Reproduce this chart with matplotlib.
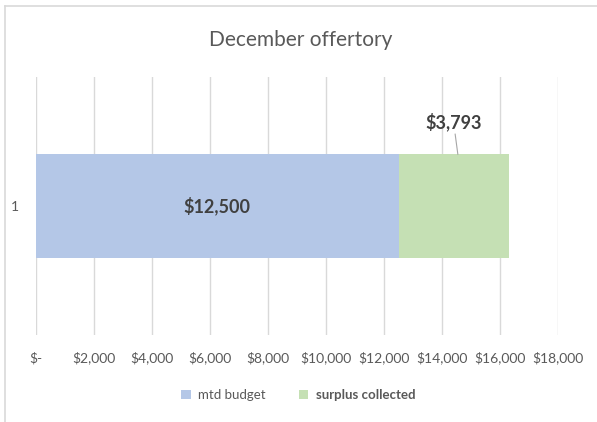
import matplotlib.pyplot as plt
from matplotlib.lines import Line2D

# chart data
categories = ['1']
mtd_budget = [12500]
surplus = [3793]
x_ticks = [0, 2000, 4000, 6000, 8000, 10000, 12000, 14000, 16000, 18000]
x_labels = ['$-', '$2,000', '$4,000', '$6,000', '$8,000', '$10,000',
            '$12,000', '$14,000', '$16,000', '$18,000']

plt.rcParams['font.family'] = ['Lato', 'DejaVu Sans']
grey = '#595959'

fig = plt.figure(figsize=(5.97, 4.22), dpi=100)
ax = fig.add_axes([0.0603, 0.206, 0.8744, 0.6115])

# chart frame: only top and left edges show in the crop
fig.lines.append(Line2D([0.008, 1.0], [0.985, 0.985], transform=fig.transFigure,
                        color='#d9d9d9', linewidth=1.2))
fig.lines.append(Line2D([0.008, 0.008], [0.0, 0.985], transform=fig.transFigure,
                        color='#d9d9d9', linewidth=1.2))

ypos = range(len(categories))
ax.barh(ypos, mtd_budget, height=0.4, color='#b4c7e7', label='mtd budget', zorder=2)
ax.barh(ypos, surplus, left=mtd_budget, height=0.4, color='#c5e0b4',
        label='surplus collected', zorder=2)

for i in ypos:
    ax.text(mtd_budget[i] / 2, i, f'${mtd_budget[i]:,}', ha='center', va='center',
            fontsize=13, fontweight='bold', color='#404040', zorder=3)
    lx = mtd_budget[i] + surplus[i] / 2
    ax.annotate(f'${surplus[i]:,}', xy=(lx + 150, i + 0.2), xytext=(lx, i + 0.29),
                ha='center', va='bottom', fontsize=13, fontweight='bold', color='#404040',
                arrowprops=dict(arrowstyle='-', color='#a6a6a6', lw=0.8,
                                shrinkA=0, shrinkB=0))

ax.set_xlim(0, 18000)
ax.set_ylim(-0.5, 0.5)
ax.set_xticks(x_ticks)
ax.set_xticklabels(x_labels)
ax.set_yticks(list(ypos))
ax.set_yticklabels(categories)
ax.tick_params(axis='both', length=0, colors=grey, labelsize=10)
ax.tick_params(axis='x', pad=12)
ax.tick_params(axis='y', pad=12)
ax.grid(axis='x', color='#d9d9d9', linewidth=1, zorder=0)
for s in ax.spines.values():
    s.set_visible(False)

fig.text(0.503, 0.905, 'December offertory', ha='center', va='center',
         fontsize=15, color=grey)

leg = fig.legend(loc='center', bbox_to_anchor=(0.5, 0.063), ncol=2, frameon=False,
                 fontsize=9.5, handlelength=0.7, handleheight=0.7, columnspacing=2.5,
                 handletextpad=0.6)
for t in leg.get_texts():
    t.set_color(grey)
leg.get_texts()[1].set_fontweight('bold')

fig.savefig('out.png', dpi=100)
